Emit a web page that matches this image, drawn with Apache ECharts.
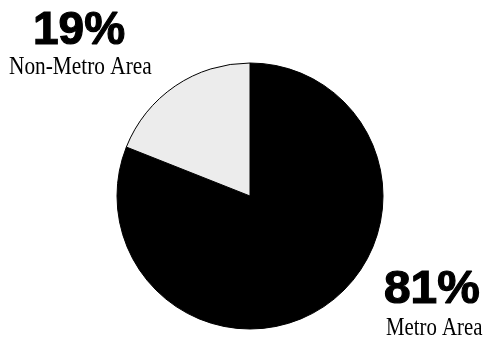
<!DOCTYPE html>
<html><head><meta charset="utf-8">
<script src="https://cdn.jsdelivr.net/npm/echarts@6/dist/echarts.min.js"></script>
<style>html,body{margin:0;padding:0;background:#fff}#c{width:486px;height:339px}</style>
</head><body><div id="c"></div>
<script>
var categories = ['Metro Area', 'Non-Metro Area'];
var values = [81, 19];
var colors = ['#000000', '#ececec'];

var chart = echarts.init(document.getElementById('c'), null, {renderer: 'canvas'});
var pctFont = '900 46px "Liberation Sans", Arial, sans-serif';
var nameFont = '26px "Liberation Serif", "Times New Roman", serif';
function pct(x, y, t, sx) {
  return {type: 'text', x: x, y: y, scaleX: sx,
    style: {text: t, font: pctFont, fill: '#000', stroke: '#000', lineWidth: 1.2, align: 'left', verticalAlign: 'top'}};
}
function nm(x, y, t, sx) {
  return {type: 'text', x: x, y: y, scaleX: sx,
    style: {text: t, font: nameFont, fill: '#000', align: 'left', verticalAlign: 'top'}};
}
chart.setOption({
  animation: false,
  series: [{
    type: 'pie',
    center: [250, 196],
    radius: 133,
    startAngle: 90,
    clockwise: true,
    label: {show: false},
    labelLine: {show: false},
    data: categories.map(function (c, i) {
      return {name: c, value: values[i], itemStyle: {color: colors[i], borderColor: '#000', borderWidth: 1}};
    })
  }],
  graphic: [
    pct(33, 8, values[1] + '%', 1.0),
    nm(9, 54, categories[1], 0.82),
    pct(384, 267, values[0] + '%', 1.04),
    nm(386, 315, categories[0], 0.8)
  ]
});
</script></body></html>
